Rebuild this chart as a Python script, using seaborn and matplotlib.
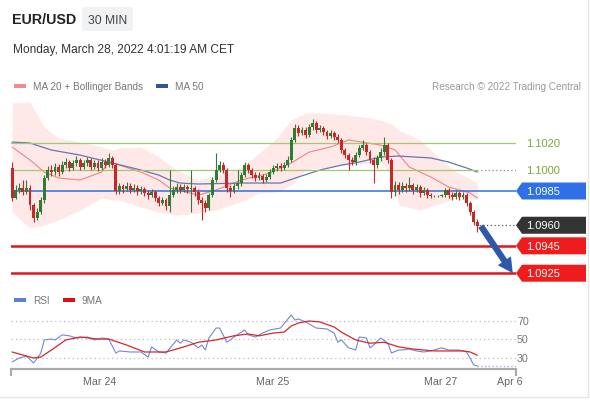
import matplotlib
matplotlib.use("Agg")
import matplotlib.pyplot as plt
import numpy as np
import seaborn as sns
from matplotlib.patches import Polygon, Rectangle, FancyBboxPatch
from matplotlib.transforms import blended_transform_factory

# ---- candles (30 min EUR/USD), open of each bar = previous close ----
first_open = 1.10018
closes = [
    1.09799, 1.09857, 1.09872, 1.09842, 1.09872, 1.09747, 1.09653, 1.09696, 1.09784, 1.09945,
    1.10003, 1.09988, 1.10025, 1.09988, 1.10039, 1.10061, 1.10018, 1.10054, 1.10076, 1.10025,
    1.10054, 1.10076, 1.10025, 1.10054, 1.10018, 1.10061, 1.10039, 1.10091, 1.10039, 1.09850,
    1.09886, 1.09864, 1.09886, 1.09857, 1.09872, 1.09850, 1.09864, 1.09835, 1.09820, 1.09842,
    1.09799, 1.09762, 1.09784, 1.09740, 1.09820, 1.09857, 1.09879, 1.09857, 1.09879, 1.09864,
    1.09872, 1.09842, 1.09784, 1.09762, 1.09726, 1.09820, 1.09930, 1.10003, 1.10039, 1.10003,
    1.09872, 1.09850, 1.09886, 1.09908, 1.09966, 1.10039, 1.10003, 1.09966, 1.09945, 1.09959,
    1.09930, 1.09952, 1.09988, 1.10018, 1.10032, 1.10018, 1.10039, 1.10076, 1.10222, 1.10310,
    1.10273, 1.10295, 1.10258, 1.10317, 1.10346, 1.10295, 1.10310, 1.10280, 1.10251, 1.10273,
    1.10244, 1.10222, 1.10149, 1.10112, 1.10076, 1.10061, 1.10112, 1.10164, 1.10185, 1.10134,
    1.10076, 1.10039, 1.10091, 1.10134, 1.10185, 1.10076, 1.09842, 1.09893, 1.09857, 1.09886,
    1.09872, 1.09893, 1.09857, 1.09879, 1.09835, 1.09857, 1.09820, 1.09813, 1.09813, 1.09813,
    1.09820, 1.09857, 1.09820, 1.09806, 1.09835, 1.09806, 1.09820, 1.09762, 1.09696, 1.09623,
    1.09594,
]
highs = [
    1.10061, 1.09893, 1.09908, 1.09930, 1.09930, 1.09893, 1.09762, 1.09726, 1.09806, 1.09966,
    1.10032, 1.10039, 1.10054, 1.10047, 1.10069, 1.10091, 1.10076, 1.10076, 1.10105, 1.10091,
    1.10076, 1.10098, 1.10091, 1.10076, 1.10076, 1.10091, 1.10083, 1.10127, 1.10105, 1.10054,
    1.09908, 1.09901, 1.09915, 1.09908, 1.09901, 1.09893, 1.09886, 1.09879, 1.09857, 1.09864,
    1.09857, 1.09813, 1.09806, 1.09799, 1.10003, 1.09886, 1.09908, 1.09901, 1.09901, 1.09893,
    1.10003, 1.09886, 1.09864, 1.09806, 1.09784, 1.09835, 1.09952, 1.10127, 1.10069, 1.10061,
    1.10018, 1.09893, 1.09908, 1.10003, 1.09988, 1.10061, 1.10054, 1.10018, 1.09988, 1.09988,
    1.09974, 1.09974, 1.10010, 1.10039, 1.10054, 1.10054, 1.10061, 1.10105, 1.10244, 1.10339,
    1.10331, 1.10317, 1.10317, 1.10339, 1.10375, 1.10361, 1.10331, 1.10324, 1.10295, 1.10295,
    1.10288, 1.10266, 1.10237, 1.10164, 1.10127, 1.10098, 1.10134, 1.10185, 1.10222, 1.10200,
    1.10149, 1.10098, 1.10112, 1.10164, 1.10244, 1.10200, 1.10091, 1.09923, 1.09915, 1.09915,
    1.09908, 1.09952, 1.09908, 1.09901, 1.09893, 1.09879, 1.09872, 1.09835, 1.09820, 1.09820,
    1.09828, 1.09872, 1.09872, 1.09842, 1.09857, 1.09850, 1.09842, 1.09835, 1.09777, 1.09711,
    1.09645,
]
lows = [
    1.09777, 1.09791, 1.09835, 1.09820, 1.09828, 1.09711, 1.09623, 1.09638, 1.09682, 1.09762,
    1.09930, 1.09959, 1.09966, 1.09959, 1.09974, 1.10018, 1.09996, 1.10003, 1.10032, 1.10003,
    1.10010, 1.10032, 1.10003, 1.10010, 1.09996, 1.10003, 1.10018, 1.10025, 1.10018, 1.09828,
    1.09828, 1.09835, 1.09850, 1.09835, 1.09842, 1.09820, 1.09828, 1.09813, 1.09791, 1.09806,
    1.09777, 1.09740, 1.09747, 1.09711, 1.09696, 1.09806, 1.09835, 1.09835, 1.09842, 1.09835,
    1.09696, 1.09813, 1.09755, 1.09638, 1.09696, 1.09711, 1.09806, 1.09915, 1.09988, 1.09981,
    1.09842, 1.09806, 1.09835, 1.09864, 1.09886, 1.09952, 1.09981, 1.09945, 1.09923, 1.09930,
    1.09908, 1.09915, 1.09937, 1.09974, 1.09996, 1.09996, 1.10003, 1.10025, 1.10061, 1.10207,
    1.10251, 1.10258, 1.10237, 1.10244, 1.10295, 1.10273, 1.10280, 1.10258, 1.10229, 1.10237,
    1.10222, 1.10200, 1.10127, 1.10091, 1.10003, 1.10039, 1.10039, 1.10098, 1.10149, 1.10112,
    1.10054, 1.09908, 1.10018, 1.10069, 1.10112, 1.10054, 1.09799, 1.09813, 1.09828, 1.09842,
    1.09842, 1.09850, 1.09828, 1.09842, 1.09806, 1.09820, 1.09799, 1.09799, 1.09806, 1.09806,
    1.09806, 1.09806, 1.09799, 1.09784, 1.09791, 1.09784, 1.09791, 1.09740, 1.09674, 1.09601,
    1.09550,
]

# ---- indicators (bar index, value) ----
band_idx = [0, 5, 9, 13, 19, 25, 28, 30, 36, 41, 46, 52, 57, 61, 65, 69, 74, 78, 82, 86,
            90, 94, 100, 103, 106, 108, 114, 120, 124, 127, 130]
band_upper = [1.10492, 1.10499, 1.10317, 1.10237, 1.10207, 1.10171, 1.10149, 1.10164, 1.10171, 1.10098,
              1.10003, 1.09930, 1.09966, 1.09988, 1.10039, 1.10127, 1.10237, 1.10368, 1.10419, 1.10419,
              1.10412, 1.10404, 1.10383, 1.10368, 1.10339, 1.10295, 1.10222, 1.10076, 1.09988, 1.09952,
              1.09908]
band_lower = [1.09696, 1.09580, 1.09601, 1.09638, 1.09711, 1.09799, 1.09784, 1.09784, 1.09733, 1.09696,
              1.09674, 1.09689, 1.09711, 1.09747, 1.09784, 1.09835, 1.09842, 1.09893, 1.10003, 1.10018,
              1.10025, 1.10039, 1.10054, 1.10054, 1.09966, 1.09747, 1.09711, 1.09762, 1.09799, 1.09806,
              1.09784]
ma20_idx = [0, 5, 9, 13, 19, 25, 27, 30, 36, 41, 44, 52, 57, 64, 72, 78, 83, 89, 94, 103,
            107, 111, 117, 122, 128, 130]
ma20_vals = [1.10171, 1.10076, 1.09988, 1.09945, 1.09930, 1.09988, 1.10061, 1.10039, 1.09988, 1.09930,
             1.09872, 1.09820, 1.09857, 1.09930, 1.09981, 1.10054, 1.10134, 1.10171, 1.10222, 1.10185,
             1.10149, 1.10025, 1.09952, 1.09879, 1.09835, 1.09799]
ma50_idx = [0, 5, 11, 19, 27, 36, 41, 44, 47, 52, 64, 75, 80, 86, 92, 97, 103, 108, 117, 122,
            127, 130]
ma50_vals = [1.10207, 1.10200, 1.10149, 1.10112, 1.10061, 1.10003, 1.09966, 1.09930, 1.09908, 1.09901,
             1.09908, 1.09908, 1.09952, 1.10003, 1.10039, 1.10061, 1.10098, 1.10105, 1.10091, 1.10061,
             1.10018, 1.09988]

rsi_idx = [0, 2, 4, 6, 8, 9, 11, 12, 14, 16, 18, 21, 23, 25, 27, 29, 30, 33, 36, 38,
           39, 41, 43, 46, 47, 48, 50, 52, 53, 54, 55, 57, 58, 60, 61, 62, 65, 66, 68, 70,
           72, 75, 78, 79, 80, 82, 85, 88, 90, 91, 92, 94, 96, 97, 99, 100, 101, 103, 105, 106,
           108, 109, 111, 113, 115, 117, 120, 122, 125, 127, 129, 130]
rsi_vals = [25.7, 30, 32, 24.6, 35, 49.5, 50.5, 49.5, 55, 54, 51.6, 52.7, 49.5, 51.6, 50.5, 35.4, 37.6, 36.5, 36.5, 31,
            42, 36.5, 35.4, 49.5, 46, 49.5, 47, 41, 44, 38.6, 51.6, 62.4, 62.4, 47, 49.5, 52.7, 60.3, 55, 52.7, 57,
            60.3, 62.4, 76.5, 71, 72.2, 69, 62.4, 61.3, 57, 47, 49.5, 41, 38.6, 52.7, 51.6, 41, 44, 51.6, 46, 35.4,
            38.6, 38.6, 39.7, 37.6, 36.5, 37.6, 41, 38.6, 38.6, 36.5, 22.4, 21.4]
ma9_idx = [0, 3, 6, 8, 11, 15, 19, 24, 27, 32, 37, 43, 48, 52, 57, 62, 66, 69, 73, 76,
           78, 80, 83, 86, 90, 92, 96, 100, 104, 108, 112, 118, 126, 128, 130]
ma9_vals = [36.5, 33.2, 30, 31, 38.6, 49.5, 52.7, 50.5, 50.5, 44, 36.5, 36.5, 42, 47, 49.5, 54, 56, 54, 57, 58,
            64.6, 67.8, 70, 69, 63.5, 58, 49.5, 46, 47, 42, 39.7, 37.6, 37.6, 36.5, 33]
rsi_levels = [70, 50, 30]

levels = [1.1020, 1.1000, 1.0985, 1.0960, 1.0945, 1.0925]
level_labels = ["1.1020", "1.1000", "1.0985", "1.0960", "1.0945", "1.0925"]
target = 1.0925

date_pos = [24.6, 72.8, 119.8, 139.0]
date_labels = ["Mar 24", "Mar 25", "Mar 27", "Apr 6"]

# ---- layout ----
W, H = 590, 400
X_MIN, X_MAX = -0.3, 140.8
P_MIN, P_MAX = 1.09164, 1.10514
R_MIN, R_MAX = 18.1, 87.3
GREEN = "#2e7d32"
RED = "#c62828"
LEVEL_GREEN = "#a3c873"


def fx(px):
    return px / W


def fy(py):
    return 1 - py / H


def ax_x(px):
    # pixel column -> axes fraction (both panels span x 11..516)
    return (px - 11) / 505


sns.set_theme(style="white")
plt.rcParams["font.family"] = ["Liberation Sans", "DejaVu Sans"]

fig = plt.figure(figsize=(W / 100, H / 100), dpi=100)
ax = fig.add_axes([fx(11), fy(285), 505 / W, 185 / H])
rax = fig.add_axes([fx(11), fy(369), 505 / W, 64 / H])

n = len(closes)
idx = np.arange(n)
c = np.array(closes)
o = np.array([first_open] + closes[:-1])
colors = np.where(c >= o, GREEN, RED)

# bands and moving averages
ax.fill_between(band_idx, band_lower, band_upper, color="#ff0000", alpha=0.09, lw=0, zorder=1)
sns.lineplot(x=ma20_idx, y=ma20_vals, ax=ax, color="#ef8585", lw=0.8, zorder=2)
sns.lineplot(x=ma50_idx, y=ma50_vals, ax=ax, color="#6478b2", lw=0.9, zorder=2)

# support / resistance lines
ax.axhline(levels[0], color=LEVEL_GREEN, lw=0.9, zorder=2)
ax.hlines(levels[1], X_MIN, n - 1, color=LEVEL_GREEN, lw=0.9, zorder=2)
ax.hlines(levels[1], n - 1, X_MAX, color="#888888", lw=0.9, ls=(0, (1, 2)), zorder=2)
ax.axhline(levels[2], color="#2f6fe0", lw=1.1, zorder=2)
ax.hlines(levels[3], n - 0.5, X_MAX, color="#555555", lw=0.9, ls=(0, (1, 2)), zorder=2)
ax.axhline(levels[4], color="#e3151a", lw=1.8, zorder=2)
ax.axhline(levels[5], color="#e3151a", lw=1.8, zorder=2)

# candles
ax.vlines(idx, lows, highs, colors=colors, lw=0.8, zorder=3)
ax.bar(idx, np.maximum(np.abs(c - o), 0.00003), bottom=np.minimum(c, o), width=0.8,
       color=colors, linewidth=0, zorder=4)

# forecast arrow
ax.annotate("", xy=(n - 1 + 9.9, target), xytext=(n - 1 + 1.0, c[-1]),
            arrowprops=dict(arrowstyle="simple,head_length=0.9,head_width=0.95,tail_width=0.38",
                            fc="#2c5aa8", ec="none", shrinkA=0, shrinkB=0), zorder=6)

ax.set_xlim(X_MIN, X_MAX)
ax.set_ylim(P_MIN, P_MAX)
ax.set_axis_off()

# price tags
tr = blended_transform_factory(ax.transAxes, ax.transData)
half = 8.5 * (P_MAX - P_MIN) / 185
tag_faces = {2: "#2f6fe8", 3: "#333333", 4: "#ee1c1c", 5: "#ee1c1c"}
for k, (lvl, lab) in enumerate(zip(levels, level_labels)):
    if k in tag_faces:
        pts = [(ax_x(516), lvl), (ax_x(522), lvl + half), (ax_x(586), lvl + half),
               (ax_x(586), lvl - half), (ax_x(522), lvl - half)]
        ax.add_patch(Polygon(pts, closed=True, transform=tr, facecolor=tag_faces[k],
                             edgecolor="none", clip_on=False, zorder=7))
        tcol = "white"
    else:
        tcol = "#7aa83a"
    ax.text(ax_x(526), lvl, lab, transform=tr, color=tcol, fontsize=8,
            va="center_baseline", ha="left", clip_on=False, zorder=8)

# ---- RSI panel ----
rtr = blended_transform_factory(rax.transAxes, rax.transData)
for lv in rsi_levels:
    rax.axhline(lv, color="#bbbbbb", lw=0.9, ls=(0, (1, 2.5)), zorder=1)
    rax.text(ax_x(517), lv, str(lv), transform=rtr, fontsize=7.7, color="#777777",
             va="center_baseline", ha="left", clip_on=False)
sns.lineplot(x=rsi_idx, y=rsi_vals, ax=rax, color="#7089d2", lw=0.8, zorder=3)
sns.lineplot(x=ma9_idx, y=ma9_vals, ax=rax, color="#d8262c", lw=0.9, zorder=4)
rax.hlines(rsi_vals[-1], rsi_idx[-1], X_MAX, color="#9aa8d8", lw=0.9, ls=(0, (1, 2)), zorder=2)

rax.set_xlim(X_MIN, X_MAX)
rax.set_ylim(R_MIN, R_MAX)
sns.despine(ax=rax, left=True)
rax.spines["bottom"].set_color("#aaaaaa")
rax.spines["bottom"].set_linewidth(1.6)
rax.set_yticks([])
rax.set_xticks(date_pos, date_labels)
rax.set_xticks([X_MIN, X_MAX], minor=True)
rax.tick_params(axis="x", which="major", length=0, pad=6, labelsize=7.7, labelcolor="#666666")
rax.tick_params(axis="x", which="minor", bottom=True, length=5, width=1.5, color="#aaaaaa",
                direction="out")
rax.set_xlabel("")
rax.set_ylabel("")
rax.patch.set_alpha(0)

# ---- header and legends ----
fig.text(fx(12), fy(19), "EUR/USD", fontsize=10.3, fontweight="bold", color="#222222",
         va="center_baseline")
fig.add_artist(FancyBboxPatch((fx(82), fy(31)), fx(133) - fx(82), 24 / H,
                              boxstyle="round,pad=0,rounding_size=0.004",
                              transform=fig.transFigure, fc="#f1f2f4", ec="none"))
fig.text(fx(107.5), fy(19), "30 MIN", ha="center", fontsize=8.7, color="#444444",
         va="center_baseline")
fig.text(fx(13), fy(48), "Monday, March 28, 2022 4:01:19 AM CET", fontsize=8.6,
         color="#333333", va="center_baseline")

legend_items = [(14, 86, "#f08c8c", "MA 20 + Bollinger Bands"), (156, 86, "#2f5596", "MA 50"),
                (14, 300, "#5b7fd6", "RSI"), (63, 300, "#e01010", "9MA")]
for x0, yc, col, txt in legend_items:
    fig.add_artist(Rectangle((fx(x0), fy(yc + 2)), 12 / W, 4 / H, transform=fig.transFigure,
                             fc=col, ec="none"))
    fig.text(fx(x0 + 19), fy(yc), txt, fontsize=7.2, color="#777777", va="center_baseline")

fig.text(fx(581), fy(86), "Research \u00a9 2022 Trading Central", fontsize=7.2, color="#9a9a9a",
         ha="right", va="center_baseline")

# card edges
fig.add_artist(plt.Line2D([fx(588), fx(588)], [fy(0), fy(397)], transform=fig.transFigure,
                          color="#e6e6e6", lw=1))
fig.add_artist(plt.Line2D([fx(0), fx(588)], [fy(397), fy(397)], transform=fig.transFigure,
                          color="#e6e6e6", lw=1))

fig.savefig("out.png", dpi=100)
plt.close(fig)
